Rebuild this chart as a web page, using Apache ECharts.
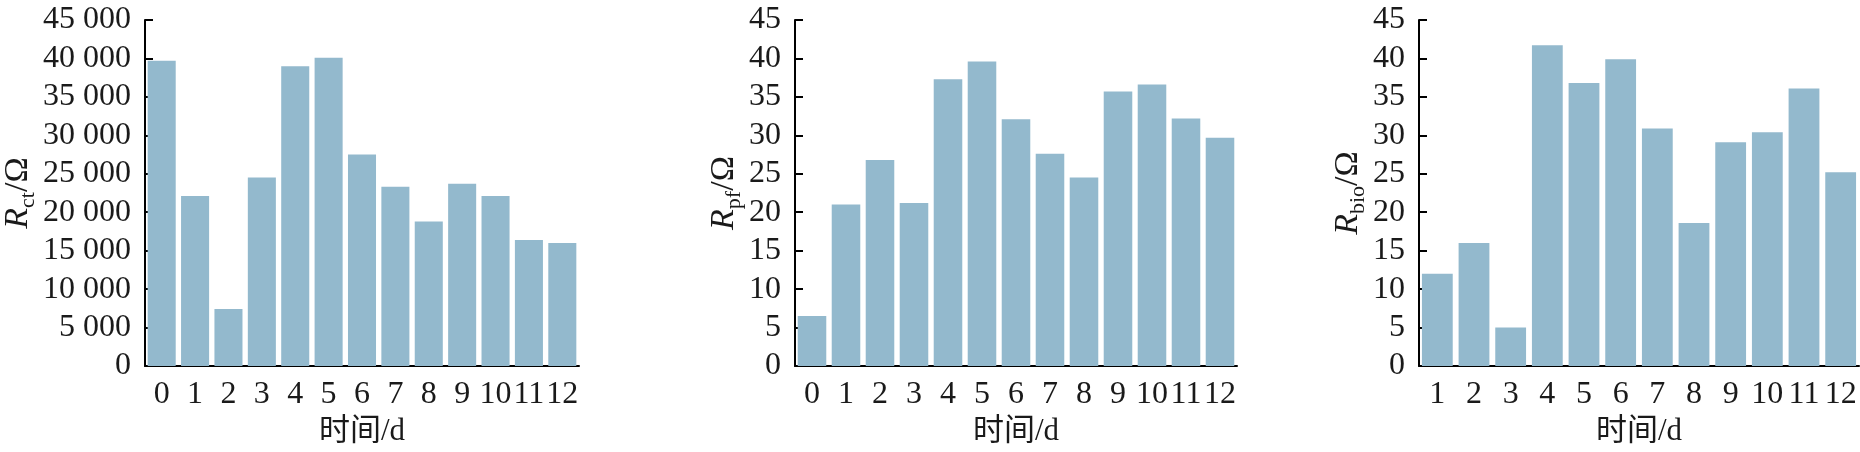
<!DOCTYPE html>
<html><head><meta charset="utf-8">
<script src="https://cdn.jsdelivr.net/npm/echarts@6/dist/echarts.min.js"></script>
<style>html,body{margin:0;padding:0;background:#fff}#c{width:1860px;height:452px}</style>
</head><body><div id="c"></div>
<script>
// ---- data ----
const daysA = ['0','1','2','3','4','5','6','7','8','9','10','11','12'];
const daysB = ['0','1','2','3','4','5','6','7','8','9','10','11','12'];
const daysC = ['1','2','3','4','5','6','7','8','9','10','11','12'];
const rct  = [39700, 22100, 7400, 24500, 39000, 40100, 27500, 23300, 18800, 23700, 22100, 16400, 16000];
const rpf  = [6.5, 21.0, 26.8, 21.2, 37.3, 39.6, 32.1, 27.6, 24.5, 35.7, 36.6, 32.2, 29.7];
const rbio = [12.0, 16.0, 5.0, 41.7, 36.8, 39.9, 30.9, 18.6, 29.1, 30.4, 36.1, 25.2];
const yMaxA = 45000, yStepA = 5000;
const yMaxB = 45, yStepB = 5;
const xTitle = '时间/d';
const subA = 'ct', subB = 'pf', subC = 'bio';

// ---- styling ----
const FONT = '"Liberation Serif", "Noto Sans CJK SC", serif';
const TXT = '#1a1a1a';
const BAR = '#93b9cd';
const grids = [
  {left: 140, top: 20, width: 439, height: 346},
  {left: 795, top: 20, width: 442, height: 346},
  {left: 1419, top: 20, width: 440, height: 346}
];
const titleGaps = [106, 48, 50];
const rich = {
  i: {fontFamily: FONT, fontStyle: 'italic', fontSize: 34, lineHeight: 42, color: TXT},
  s: {fontFamily: FONT, fontSize: 22, lineHeight: 19, verticalAlign: 'bottom', color: TXT},
  n: {fontFamily: FONT, fontSize: 34, lineHeight: 42, color: TXT}
};
function fmtSpace(v) {
  return String(v).replace(/\B(?=(\d{3})+(?!\d))/g, ' ');
}
const axisLine = {show: true, lineStyle: {color: '#000', width: 2}};
function xAxis(i, cats) {
  return {
    type: 'category', gridIndex: i, data: cats,
    axisLine: axisLine, axisTick: {show: false},
    axisLabel: {interval: 0, margin: 13, fontFamily: FONT, fontSize: 32, color: TXT},
    name: xTitle, nameLocation: 'middle', nameGap: 46,
    nameTextStyle: {fontFamily: FONT, fontSize: 31, color: TXT}
  };
}
function yAxis(i, max, step, sub, fmt) {
  return {
    type: 'value', gridIndex: i, min: 0, max: max, interval: step,
    axisLine: axisLine,
    axisTick: {show: true, inside: true, length: 8, lineStyle: {color: '#000', width: 2}},
    splitLine: {show: false},
    axisLabel: {margin: 14, fontFamily: FONT, fontSize: 32, color: TXT, formatter: fmt},
    name: '{i|R}{s|' + sub + '}{n|/Ω}', nameLocation: 'middle', nameRotate: 90,
    nameGap: titleGaps[i], nameTextStyle: {rich: rich}
  };
}
function bars(i, data) {
  return {type: 'bar', xAxisIndex: i, yAxisIndex: i, data: data, barCategoryGap: '16%',
          itemStyle: {color: BAR}, animation: false};
}
const chart = echarts.init(document.getElementById('c'), null, {renderer: 'canvas'});
chart.setOption({
  animation: false,
  grid: grids,
  xAxis: [xAxis(0, daysA), xAxis(1, daysB), xAxis(2, daysC)],
  yAxis: [
    yAxis(0, yMaxA, yStepA, subA, fmtSpace),
    yAxis(1, yMaxB, yStepB, subB, null),
    yAxis(2, yMaxB, yStepB, subC, null)
  ],
  series: [bars(0, rct), bars(1, rpf), bars(2, rbio)]
});
</script>
</body></html>
